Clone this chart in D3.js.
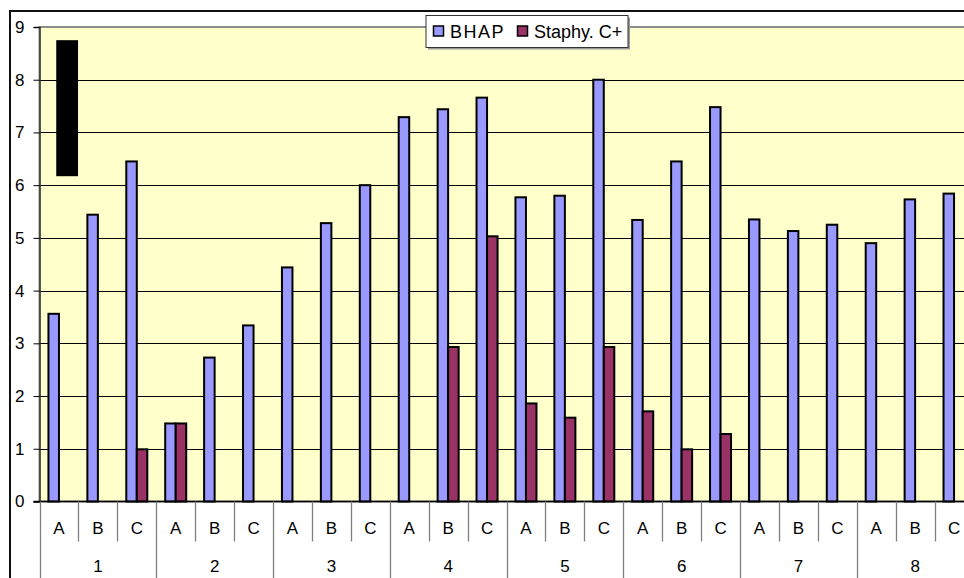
<!DOCTYPE html>
<html>
<head>
<meta charset="utf-8">
<script src="https://cdn.jsdelivr.net/npm/d3@7"></script>
<style>
body{margin:0;background:#fff;}
#gt{width:964px;height:578px;overflow:hidden;}
text{font-family:"Liberation Sans",Arial,sans-serif;}
</style>
</head>
<body>
<div id="gt"></div>
<script>
// data
var groups = ["1","2","3","4","5","6","7","8"];
var subs = ["A","B","C"];
var seriesNames = ["BHAP","Staphy. C+"];
var bhap   = [3.56,5.44,6.45, 1.48,2.73,3.34, 4.44,5.28,6.00, 7.29,7.44,7.66,
              5.77,5.80,8.00, 5.34,6.45,7.48, 5.35,5.13,5.25, 4.90,5.73,5.84];
var staphy = [0,0,0.99, 1.48,0,0, 0,0,0, 0,2.93,5.03,
              1.86,1.59,2.93, 1.71,0.99,1.28, 0,0,0, 0,0,0];
var yTicks = [0,1,2,3,4,5,6,7,8,9];
// black box drawn over the chart (category index / value units)
var boxCat = [0.43,0.99];
var boxVal = [6.17,8.75];

var colors = ["#9999FF","#993366"];

var width = document.getElementById('gt').clientWidth,
    height = document.getElementById('gt').clientHeight;

var plot = {l:39.5, t:27, r:973.5, b:501.5};

var svg = d3.select("#gt")
    .append('svg')
    .attr('width',width)
    .attr('height',height);

var cats = [];
groups.forEach(function(g){
    subs.forEach(function(s){ cats.push(g+"-"+s); });
});

var data = cats.map(function(c,i){
    return {cat:c, sub:c.split("-")[1], vals:[bhap[i],staphy[i]]};
});

var x = d3.scaleBand()
    .domain(cats)
    .range([plot.l, plot.r])
    .padding(0);

var bw = x.bandwidth();

var x1 = d3.scaleBand()
    .domain([0,1])
    .range([bw*0.23, bw*0.77])
    .padding(0);

var xi = d3.scaleLinear()
    .domain([0,cats.length])
    .range([plot.l, plot.r]);

var y = d3.scaleLinear()
    .domain([0,9])
    .range([plot.b, plot.t]);

// outer frame
svg.append('rect')
    .attr('x',10).attr('y',11)
    .attr('width',width+20).attr('height',height+20)
    .attr('fill','#fff')
    .attr('stroke','#111')
    .attr('stroke-width',2);

// plot area
svg.append('rect')
    .attr('x',plot.l).attr('y',plot.t)
    .attr('width',plot.r-plot.l).attr('height',plot.b-plot.t)
    .attr('fill','#FFFFCC')
    .attr('stroke','#8c8c8c')
    .attr('stroke-width',2);

// gridlines
svg.append('g')
    .selectAll('line')
    .data(yTicks.filter(function(d){return d>0 && d<9;}))
    .enter()
    .append('line')
    .attr('x1',plot.l).attr('x2',plot.r)
    .attr('y1',function(d){return Math.round(y(d))+0.5;})
    .attr('y2',function(d){return Math.round(y(d))+0.5;})
    .attr('stroke','#000')
    .attr('stroke-width',1.2);

// y axis
var yAxis = svg.append("g")
    .attr("class","axis axis--y")
    .attr("transform","translate("+plot.l+",0)")
    .call(d3.axisLeft(y).tickValues(yTicks).tickSize(6).tickPadding(9).tickFormat(d3.format("d")));
yAxis.select(".domain").attr("stroke","#333").attr("stroke-width",1.5);
yAxis.selectAll(".tick line").attr("stroke","#000");
yAxis.selectAll("text")
    .attr("fill","#000")
    .style("font-size","17px")
    .style("font-family","'Liberation Sans',Arial,sans-serif");

// bars
var cg = svg.append('g').selectAll('.cat')
    .data(data)
    .enter()
    .append('g')
    .attr('class','cat')
    .attr('transform',function(d){return "translate("+x(d.cat)+",0)";});

cg.selectAll('rect')
    .data(function(d){ return d.vals.map(function(v,k){return {k:k,v:v};}).filter(function(e){return e.v>0;}); })
    .enter()
    .append('rect')
    .attr('x',function(d){return x1(d.k);})
    .attr('y',function(d){return y(d.v);})
    .attr('width',x1.bandwidth())
    .attr('height',function(d){return y(0)-y(d.v);})
    .attr('fill',function(d){return colors[d.k];})
    .attr('stroke','#000')
    .attr('stroke-width',2);

// x axis line
svg.append('line')
    .attr('x1',plot.l-6).attr('x2',plot.r)
    .attr('y1',plot.b).attr('y2',plot.b)
    .attr('stroke','#000')
    .attr('stroke-width',1.5);

// category tick lines
var xt = svg.append('g').attr('class','axis axis--x');
xt.selectAll('.ctick')
    .data(d3.range(cats.length+1))
    .enter()
    .append('line')
    .attr('class','ctick')
    .attr('x1',function(i){return Math.round(xi(i))+0.5;})
    .attr('x2',function(i){return Math.round(xi(i))+0.5;})
    .attr('y1',plot.b)
    .attr('y2',function(i){return i%3==0 ? height : 541.5;})
    .attr('stroke','#808080')
    .attr('stroke-width',1.3);

xt.selectAll('.clab')
    .data(data)
    .enter()
    .append('text')
    .attr('class','clab')
    .attr('x',function(d){return x(d.cat)+bw/2;})
    .attr('y',534)
    .attr('text-anchor','middle')
    .style('font-size','17px')
    .text(function(d){return d.sub;});

xt.selectAll('.glab')
    .data(groups)
    .enter()
    .append('text')
    .attr('class','glab')
    .attr('x',function(g,i){return xi(i*3+1.5);})
    .attr('y',572)
    .attr('text-anchor','middle')
    .style('font-size','17px')
    .text(function(g){return g;});

// black box
svg.append('rect')
    .attr('x',xi(boxCat[0]))
    .attr('y',y(boxVal[1]))
    .attr('width',xi(boxCat[1])-xi(boxCat[0]))
    .attr('height',y(boxVal[0])-y(boxVal[1]))
    .attr('fill','#000');

// legend
var lg = svg.append('g').attr('transform','translate(426,15.5)');
lg.append('rect')
    .attr('x',2).attr('y',2)
    .attr('width',202).attr('height',32)
    .attr('fill','#9a9a9a');
lg.append('rect')
    .attr('x',0).attr('y',0)
    .attr('width',202).attr('height',32)
    .attr('fill','#fff')
    .attr('stroke','#333')
    .attr('stroke-width',1);

var legX = [7,91];
var items = lg.selectAll('.leg')
    .data(seriesNames)
    .enter()
    .append('g')
    .attr('class','leg')
    .attr('transform',function(d,i){return "translate("+legX[i]+",0)";});
items.append('rect')
    .attr('x',0.5).attr('y',10.5)
    .attr('width',10).attr('height',10)
    .attr('fill',function(d,i){return colors[i];})
    .attr('stroke','#000')
    .attr('stroke-width',1.5);
items.append('text')
    .attr('x',17).attr('y',22.5)
    .style('font-size','18px')
    .style('letter-spacing',function(d,i){return i==0 ? "1.5px" : "0px";})
    .text(function(d){return d;});
</script>
</body>
</html>
